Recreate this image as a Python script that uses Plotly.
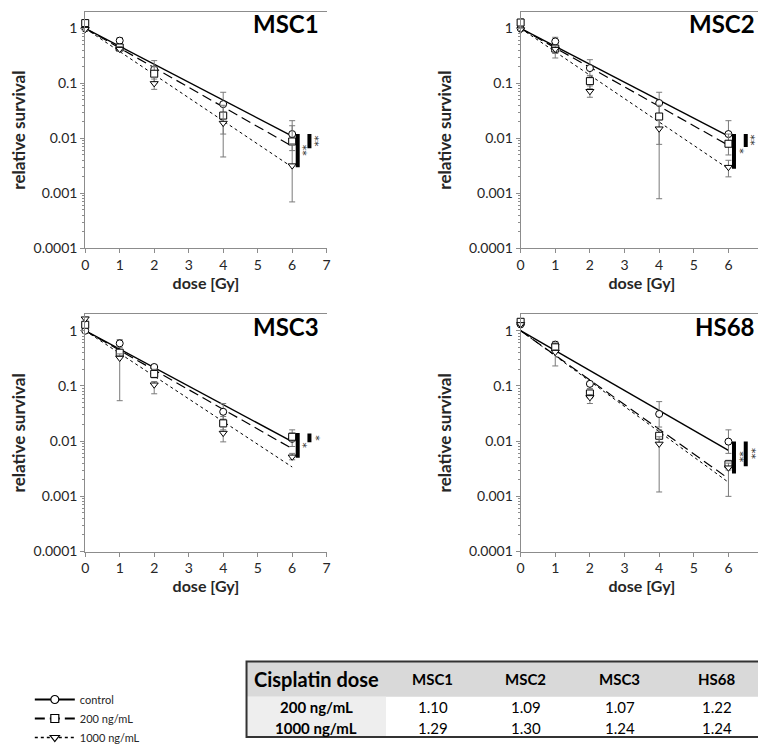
import math
import plotly.graph_objects as go

W, H = 766, 744

DOSES = [0, 1, 2, 4, 6]
SERIES = ["control", "200 ng/mL", "1000 ng/mL"]
PANELS = ["MSC1", "MSC2", "MSC3", "HS68"]

# survival values per panel: control, 200 ng/mL, 1000 ng/mL
MSC1_Y = [[1.0, 0.60, 0.18, 0.042, 0.012],
          [1.25, 0.45, 0.15, 0.026, 0.0088],
          [0.97, 0.42, 0.10, 0.019, 0.0032]]
MSC1_HI = [[1.05, 0.68, 0.26, 0.069, 0.021],
           [1.32, 0.50, 0.20, 0.040, 0.017],
           [1.00, 0.47, 0.13, 0.030, 0.008]]
MSC1_LO = [[0.95, 0.52, 0.12, 0.028, 0.0082],
           [1.18, 0.40, 0.10, 0.012, 0.006],
           [0.92, 0.38, 0.078, 0.0046, 0.0007]]

MSC2_Y = [[1.0, 0.58, 0.19, 0.044, 0.012],
          [1.28, 0.43, 0.11, 0.025, 0.008],
          [0.95, 0.42, 0.072, 0.015, 0.003]]
MSC2_HI = [[1.10, 0.69, 0.27, 0.069, 0.021],
           [1.50, 0.50, 0.14, 0.040, 0.012],
           [1.00, 0.48, 0.09, 0.022, 0.004]]
MSC2_LO = [[0.90, 0.48, 0.13, 0.028, 0.0075],
           [1.10, 0.29, 0.08, 0.0078, 0.005],
           [0.90, 0.35, 0.056, 0.0008, 0.002]]

MSC3_Y = [[1.0, 0.59, 0.22, 0.034, 0.011],
          [1.28, 0.40, 0.165, 0.021, 0.012],
          [1.65, 0.32, 0.105, 0.014, 0.0052]]
MSC3_HI = [[1.05, 0.69, 0.24, 0.048, 0.016],
           [1.35, 0.45, 0.20, 0.028, 0.014],
           [1.75, 0.38, 0.12, 0.018, 0.006]]
MSC3_LO = [[0.95, 0.50, 0.20, 0.025, 0.008],
           [1.20, 0.35, 0.14, 0.016, 0.0099],
           [1.55, 0.054, 0.072, 0.0097, 0.0046]]

HS68_Y = [[1.30, 0.56, 0.109, 0.031, 0.0098],
          [1.45, 0.50, 0.073, 0.0125, 0.0038],
          [1.30, 0.41, 0.062, 0.0089, 0.0033]]
HS68_HI = [[1.40, 0.64, 0.12, 0.052, 0.016],
           [1.55, 0.60, 0.08, 0.016, 0.0045],
           [1.40, 0.45, 0.07, 0.012, 0.004]]
HS68_LO = [[1.20, 0.48, 0.09, 0.018, 0.006],
           [1.35, 0.42, 0.06, 0.009, 0.003],
           [1.20, 0.23, 0.048, 0.0012, 0.001]]

# fitted curves: value at dose 0 and dose 6
FIT_X = [0, 6]
MSC1_FIT = [[1, 0.011], [1, 0.0072], [1, 0.003]]
MSC2_FIT = [[1, 0.011], [1, 0.0075], [1, 0.0028]]
MSC3_FIT = [[1, 0.0098], [1, 0.0073], [1, 0.0034]]
HS68_FIT = [[1, 0.0068], [1, 0.0021], [1, 0.0018]]

# significance brackets at 6 Gy: (upper, lower, label)
MSC1_SIG = [(0.012, 0.003, "**"), (0.012, 0.0066, "**")]
MSC2_SIG = [(0.012, 0.0028, "*"), (0.012, 0.007, "**")]
MSC3_SIG = [(0.014, 0.005, "*"), (0.0137, 0.0095, "*")]
HS68_SIG = [(0.0098, 0.0026, "**"), (0.0098, 0.0035, "**")]

Y_TICKS = [0.0001, 0.001, 0.01, 0.1, 1]
Y_TICKTEXT = ["0.0001", "0.001", "0.01", "0.1", "1"]
X_TICKS = [0, 1, 2, 3, 4, 5, 6, 7]

TABLE_HEADER = ["Cisplatin dose", "MSC1", "MSC2", "MSC3", "HS68"]
TABLE_ROWS = ["200 ng/mL", "1000 ng/mL"]
DMF_200 = ["1.10", "1.09", "1.07", "1.22"]
DMF_1000 = ["1.29", "1.30", "1.24", "1.24"]

DATA = {
    "MSC1": (MSC1_Y, MSC1_HI, MSC1_LO, MSC1_FIT, MSC1_SIG),
    "MSC2": (MSC2_Y, MSC2_HI, MSC2_LO, MSC2_FIT, MSC2_SIG),
    "MSC3": (MSC3_Y, MSC3_HI, MSC3_LO, MSC3_FIT, MSC3_SIG),
    "HS68": (HS68_Y, HS68_HI, HS68_LO, HS68_FIT, HS68_SIG),
}

SYMBOLS = ["circle", "square", "triangle-down"]
DASHES = ["solid", "10px,5px", "dot"]
LWIDTH = [1.4, 1.2, 1.0]
AXC = "#8c8c8c"
TXT = "#262626"
FONT = "Lato"

# panel plot-area boxes in pixels: (left, top, right, bottom)
BOXES = [(74, 4, 318, 245), (514, 4, 759, 245), (74, 312, 318, 554), (514, 312, 759, 554)]

fig = go.Figure()
layout = {}
annotations = []
shapes = []

for i, name in enumerate(PANELS):
    ys, his, los, fits, sigs = DATA[name]
    sfx = "" if i == 0 else str(i + 1)
    xa, ya = "x" + sfx, "y" + sfx
    l, t, r, b = BOXES[i]
    layout["xaxis" + sfx] = dict(
        domain=[l / W, r / W], anchor=ya, range=[0, 7], tickvals=X_TICKS,
        showline=True, linecolor=AXC, linewidth=1, mirror=True,
        ticks="outside", ticklen=4, tickcolor=AXC, showgrid=False, zeroline=False,
        tickfont=dict(size=14, color=TXT, family=FONT),
        title=dict(text="<b>dose [Gy]</b>", font=dict(size=16, color=TXT, family=FONT), standoff=5),
    )
    layout["yaxis" + sfx] = dict(
        domain=[1 - b / H, 1 - t / H], anchor=xa, type="log", range=[-4, 0.3],
        tickvals=Y_TICKS, ticktext=Y_TICKTEXT,
        showline=True, linecolor=AXC, linewidth=1,
        ticks="outside", ticklen=4, tickcolor=AXC, showgrid=False, zeroline=False,
        minor=dict(ticks="outside", ticklen=2, tickcolor=AXC, dtick="D1", showgrid=False),
        tickfont=dict(size=14, color=TXT, family=FONT),
        title=dict(text="<b>relative survival</b>", font=dict(size=17, color=TXT, family=FONT), standoff=12),
    )
    # fitted lines
    for k in range(3):
        fig.add_trace(go.Scatter(
            x=FIT_X, y=fits[k], mode="lines", xaxis=xa, yaxis=ya, showlegend=False,
            line=dict(color="black", width=LWIDTH[k], dash=DASHES[k]), hoverinfo="skip"))
    # data points with error bars
    for k in range(3):
        plus = [h - v for h, v in zip(his[k], ys[k])]
        minus = [v - lo for v, lo in zip(ys[k], los[k])]
        fig.add_trace(go.Scatter(
            x=DOSES, y=ys[k], mode="markers", xaxis=xa, yaxis=ya, showlegend=False,
            cliponaxis=False,
            marker=dict(symbol=SYMBOLS[k], size=7, color="white",
                        line=dict(color="black", width=1)),
            error_y=dict(type="data", array=plus, arrayminus=minus, symmetric=False,
                         color="#7a7a7a", thickness=1, width=3),
            name=SERIES[k]))
    # significance bars
    for j, (hi, lo, lab) in enumerate(sigs):
        bx = 6.16 + 0.34 * j
        fig.add_trace(go.Scatter(
            x=[bx, bx], y=[hi, lo], mode="lines", xaxis=xa, yaxis=ya, showlegend=False,
            cliponaxis=False, line=dict(color="black", width=4), hoverinfo="skip"))
        annotations.append(dict(
            x=bx + 0.15, y=(math.log10(hi) + math.log10(lo)) / 2, xref=xa, yref=ya,
            text=lab, textangle=90, showarrow=False,
            font=dict(size=11, color="#333333", family="DejaVu Sans"),
            xanchor="center", yanchor="middle"))
    annotations.append(dict(
        x=0.975, y=0.95, xref=xa + " domain", yref=ya + " domain", text="<b>%s</b>" % name,
        showarrow=False, xanchor="right", yanchor="middle",
        font=dict(size=24, color="black", family=FONT)))

# legend entries
for k in range(3):
    fig.add_trace(go.Scatter(
        x=[None], y=[None], mode="lines+markers", name=SERIES[k], showlegend=True,
        line=dict(color="black", width=LWIDTH[k] + 0.6, dash=DASHES[k]),
        marker=dict(symbol=SYMBOLS[k], size=8, color="white",
                    line=dict(color="black", width=1.2))))

# table drawn from shapes + text
COL_EDGES = [237, 378, 472, 566, 662, 762]
ROW_EDGES = [666, 702, 723, 744]
def px(x):
    return x / W
def py(y):
    return 1 - y / H

shapes.append(dict(type="rect", xref="paper", yref="paper", x0=px(COL_EDGES[0]), x1=px(COL_EDGES[-1]),
                   y0=py(ROW_EDGES[0]), y1=py(ROW_EDGES[1]), fillcolor="#d9d9d9", line=dict(width=0),
                   layer="below"))
shapes.append(dict(type="rect", xref="paper", yref="paper", x0=px(COL_EDGES[0]), x1=px(COL_EDGES[1]),
                   y0=py(ROW_EDGES[1]), y1=py(ROW_EDGES[3]), fillcolor="#eeeeee", line=dict(width=0),
                   layer="below"))
shapes.append(dict(type="rect", xref="paper", yref="paper", x0=px(COL_EDGES[0]), x1=px(COL_EDGES[-1]),
                   y0=py(ROW_EDGES[0]), y1=py(743), line=dict(color="#333333", width=2)))

for c, h in enumerate(TABLE_HEADER):
    cx = (COL_EDGES[c] + COL_EDGES[c + 1]) / 2
    annotations.append(dict(x=px(cx), y=py((ROW_EDGES[0] + ROW_EDGES[1]) / 2), xref="paper", yref="paper",
                            text="<b>%s</b>" % h, showarrow=False, xanchor="center", yanchor="middle",
                            font=dict(size=20 if c == 0 else 15, color="black", family=FONT)))
    for rr in range(2):
        if c == 0:
            txt = "<b>%s</b>" % TABLE_ROWS[rr]
        else:
            txt = (DMF_200 if rr == 0 else DMF_1000)[c - 1]
        annotations.append(dict(x=px(cx), y=py((ROW_EDGES[rr + 1] + ROW_EDGES[rr + 2]) / 2),
                                xref="paper", yref="paper", text=txt, showarrow=False,
                                xanchor="center", yanchor="middle",
                                font=dict(size=15, color="black", family=FONT)))

layout.update(dict(
    width=W, height=H, margin=dict(l=0, r=0, t=0, b=0),
    paper_bgcolor="white", plot_bgcolor="white",
    font=dict(family=FONT, color=TXT),
    annotations=annotations,
    shapes=shapes,
    legend=dict(x=18 / W, y=1 - 690 / H, xanchor="left", yanchor="top",
                font=dict(size=11, color=TXT, family=FONT), itemwidth=40,
                tracegroupgap=0, bgcolor="rgba(0,0,0,0)"),
))
fig.update_layout(layout)
fig.write_html("out.html")
